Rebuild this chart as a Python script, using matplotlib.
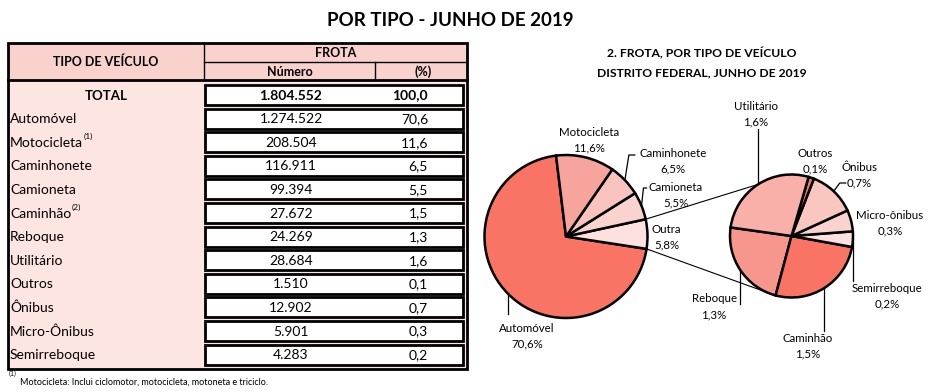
import numpy as np
import matplotlib
matplotlib.use("Agg")
import matplotlib.pyplot as plt
from matplotlib.patches import Rectangle

# ---------------- data ----------------
table_labels = ["Automóvel", "Motocicleta", "Caminhonete", "Camioneta", "Caminhão",
                "Reboque", "Utilitário", "Outros", "Ônibus", "Micro-Ônibus", "Semirreboque"]
table_sup = ["", "(1)", "", "", "(2)", "", "", "", "", "", ""]
table_numbers = ["1.274.522", "208.504", "116.911", "99.394", "27.672",
                 "24.269", "28.684", "1.510", "12.902", "5.901", "4.283"]
table_pct = ["70,6", "11,6", "6,5", "5,5", "1,5", "1,3", "1,6", "0,1", "0,7", "0,3", "0,2"]
total_number = "1.804.552"
total_pct = "100,0"

main_labels = ["Automóvel", "Outra", "Camioneta", "Caminhonete", "Motocicleta"]
main_values = [1274522, 105221, 99394, 116911, 208504]
main_pct = ["70,6%", "5,8%", "5,5%", "6,5%", "11,6%"]
main_colors = ["#FA7466", "#FCE1DE", "#FBD3CE", "#F9C4BE", "#F7A49C"]

sub_labels = ["Reboque", "Caminhão", "Semirreboque", "Micro-ônibus", "Ônibus", "Outros", "Utilitário"]
sub_values = [24269, 27672, 4283, 5901, 12902, 1510, 28684]
sub_pct = ["1,3%", "1,5%", "0,2%", "0,3%", "0,7%", "0,1%", "1,6%"]
sub_colors = ["#F6968C", "#FA7466", "#FCE1DE", "#FBD3CE", "#F9C6C0", "#EF7A70", "#F8B0A9"]

# ---------------- figure ----------------
W, H = 930, 392
FONT = "Lato"
plt.rcParams["font.family"] = [FONT, "DejaVu Sans"]
fig = plt.figure(figsize=(W / 100, H / 100), dpi=100)
ax = fig.add_axes([0, 0, 1, 1])


def Y(y):
    return H - y


# title
ax.text(450, Y(20), "POR TIPO - JUNHO DE 2019", ha="center", va="center",
        fontsize=13.5, fontweight="bold")

# ---------------- table ----------------
tx0, tx1 = 8, 467
ty0, ty1 = 43, 369
hdr_mid, hdr_bot = 62, 80
col1, col2 = 204, 375

ax.add_patch(Rectangle((tx0, Y(ty1)), tx1 - tx0, ty1 - ty0, facecolor="#FDE5E2",
                       edgecolor="none", zorder=1))
ax.add_patch(Rectangle((tx0, Y(hdr_bot)), tx1 - tx0, hdr_bot - ty0, facecolor="#F9D2CD",
                       edgecolor="none", zorder=1))
# header lines
ax.plot([col1, col1], [Y(ty0), Y(hdr_bot)], color="black", lw=1.0, zorder=3)
ax.plot([col1, tx1], [Y(hdr_mid), Y(hdr_mid)], color="black", lw=1.0, zorder=3)
ax.plot([col2, col2], [Y(hdr_mid), Y(hdr_bot)], color="black", lw=1.0, zorder=3)
ax.plot([tx0, tx1], [Y(hdr_bot), Y(hdr_bot)], color="black", lw=2.0, zorder=3)
ax.add_patch(Rectangle((tx0, Y(ty1)), tx1 - tx0, ty1 - ty0, facecolor="none",
                       edgecolor="black", lw=2.0, zorder=4))

ax.text((tx0 + col1) / 2, Y(62), "TIPO DE VEÍCULO", ha="center", va="center",
        fontsize=9, fontweight="bold", zorder=5)
ax.text((col1 + tx1) / 2, Y(53), "FROTA", ha="center", va="center",
        fontsize=9, fontweight="bold", zorder=5)
ax.text((col1 + col2) / 2, Y(72), "Número", ha="center", va="center",
        fontsize=9, fontweight="bold", zorder=5)
ax.text((col2 + tx1) / 2 + 2, Y(72), "(%)", ha="center", va="center",
        fontsize=9, fontweight="bold", zorder=5)

row_top0 = 85
pitch = 23.6
box_h = 20
bx0, bx1 = 205, 463
num_x = 291
pct_x = 428

all_labels = ["TOTAL"] + table_labels
all_sup = [""] + table_sup
all_num = [total_number] + table_numbers
all_pct = [total_pct] + table_pct
for i, (lab, sup, num, pct) in enumerate(zip(all_labels, all_sup, all_num, all_pct)):
    top = row_top0 + i * pitch
    yc = top + box_h / 2 + 0.5
    ax.add_patch(Rectangle((bx0, Y(top + box_h)), bx1 - bx0, box_h, facecolor="white",
                           edgecolor="black", lw=2.0, zorder=3))
    bold = "bold" if i == 0 else "normal"
    if i == 0:
        ax.text((tx0 + col1) / 2, Y(yc), lab, ha="center", va="center",
                fontsize=9.5, fontweight="bold", zorder=5)
    else:
        t = ax.text(10, Y(yc), lab, ha="left", va="center", fontsize=10, zorder=5)
        if sup:
            ax.annotate(sup, xy=(1, 0.75), xycoords=t, xytext=(0.5, 0),
                        textcoords="offset points", ha="left", va="bottom",
                        fontsize=6, zorder=5)
    ax.text(num_x, Y(yc), num, ha="center", va="center", fontsize=10,
            fontweight=bold, zorder=5)
    ax.text(pct_x, Y(yc), pct, ha="right", va="center", fontsize=10,
            fontweight=bold, zorder=5)

# footnote
fn = ax.text(9, Y(373), "(1)", ha="left", va="center", fontsize=5)
ax.text(20, Y(382), "Motocicleta: Inclui ciclomotor, motocicleta, motoneta e triciclo.",
        ha="left", va="center", fontsize=6.5)

# ---------------- pies ----------------
ax.text(702, Y(53), "2. FROTA, POR TIPO DE VEÍCULO", ha="center", va="center",
        fontsize=8.7, fontweight="bold")
ax.text(702, Y(73), "DISTRITO FEDERAL, JUNHO DE 2019", ha="center", va="center",
        fontsize=8.7, fontweight="bold")

c1 = (566, Y(236.5))
r1 = 81.5
c2 = (791.5, Y(236))
r2 = 61.5
wp = dict(edgecolor="black", linewidth=1.8)
w1, _ = ax.pie(main_values, colors=main_colors, startangle=97, counterclock=True,
               center=c1, radius=r1, wedgeprops=wp, frame=True)
w2, _ = ax.pie(sub_values, colors=sub_colors, startangle=172, counterclock=True,
               center=c2, radius=r2, wedgeprops=wp, frame=True)
for w in list(w1) + list(w2):
    w.set_zorder(3)


def edge_pt(c, r, ang):
    a = np.deg2rad(ang)
    return c[0] + r * np.cos(a), c[1] + r * np.sin(a)


def mid(w):
    return (w.theta1 + w.theta2) / 2


# connector lines between pies
outra = w1[1]
p_up = edge_pt(c1, r1, outra.theta2)
p_lo = edge_pt(c1, r1, outra.theta1)
q_up = edge_pt(c2, r2, 123)
q_lo = edge_pt(c2, r2, 254)
ax.plot([p_up[0], q_up[0]], [p_up[1], q_up[1]], color="black", lw=0.8, zorder=2)
ax.plot([p_lo[0], q_lo[0]], [p_lo[1], q_lo[1]], color="black", lw=0.8, zorder=2)

lfs = 8.3
lw_lead = 0.9


def label(x, y, name, pct, ha="center"):
    ax.text(x, Y(y), name, ha=ha, va="center", fontsize=lfs, zorder=6)
    ax.text(x if ha == "center" else x + 3, Y(y + 15.5), pct, ha=ha, va="center",
            fontsize=lfs, zorder=6)


# main pie labels
# Automóvel
p = edge_pt(c1, r1, mid(w1[0]))
ax.plot([p[0], p[0]], [p[1], Y(314)], color="black", lw=lw_lead, zorder=2)
label(527, 328, main_labels[0], main_pct[0])
# Outra
label(651, 229, main_labels[1], main_pct[1], ha="left")
# Camioneta
p = edge_pt(c1, r1, mid(w1[2]))
ax.plot([p[0], p[0] + 2, p[0] + 5], [p[1], Y(188), Y(188)], color="black", lw=lw_lead, zorder=2)
label(676, 187, main_labels[2], main_pct[2])
# Caminhonete
p = edge_pt(c1, r1, mid(w1[3]))
ax.plot([p[0], p[0] + 4, p[0] + 10], [p[1], Y(155), Y(155)], color="black", lw=lw_lead, zorder=2)
label(673, 153, main_labels[3], main_pct[3])
# Motocicleta
label(589, 132, main_labels[4], main_pct[4])

# sub pie labels
# Reboque
p = edge_pt(c2, r2, mid(w2[0]))
ax.plot([p[0], p[0]], [p[1], Y(304)], color="black", lw=lw_lead, zorder=2)
ax.text(737, Y(299), sub_labels[0], ha="right", va="center", fontsize=lfs, zorder=6)
ax.text(714, Y(314.5), sub_pct[0], ha="center", va="center", fontsize=lfs, zorder=6)
# Caminhão
p = edge_pt(c2, r2, mid(w2[1]))
ax.plot([p[0], p[0]], [p[1], Y(331)], color="black", lw=lw_lead, zorder=2)
label(808, 338, sub_labels[1], sub_pct[1])
# Semirreboque
p = edge_pt(c2, r2, mid(w2[2]))
ax.plot([p[0], p[0]], [p[1], Y(281)], color="black", lw=lw_lead, zorder=2)
label(887, 288, sub_labels[2], sub_pct[2])
# Micro-ônibus
label(890, 215, sub_labels[3], sub_pct[3])
# Ônibus
p = edge_pt(c2, r2, mid(w2[4]))
ax.plot([p[0], p[0] + 6, p[0] + 12], [p[1], Y(183), Y(183)], color="black", lw=lw_lead, zorder=2)
ax.text(860, Y(167), sub_labels[4], ha="center", va="center", fontsize=lfs, zorder=6)
ax.text(847, Y(183), sub_pct[4], ha="left", va="center", fontsize=lfs, zorder=6)
# Outros
label(815, 153, sub_labels[5], sub_pct[5])
# Utilitário
p = edge_pt(c2, r2, mid(w2[6]))
ax.plot([p[0], p[0]], [p[1], Y(129)], color="black", lw=lw_lead, zorder=2)
label(756, 106, sub_labels[6], sub_pct[6])

ax.set_xlim(0, W)
ax.set_ylim(0, H)
ax.set_aspect("auto")
ax.axis("off")

fig.savefig("out.png", dpi=100, facecolor="white")
